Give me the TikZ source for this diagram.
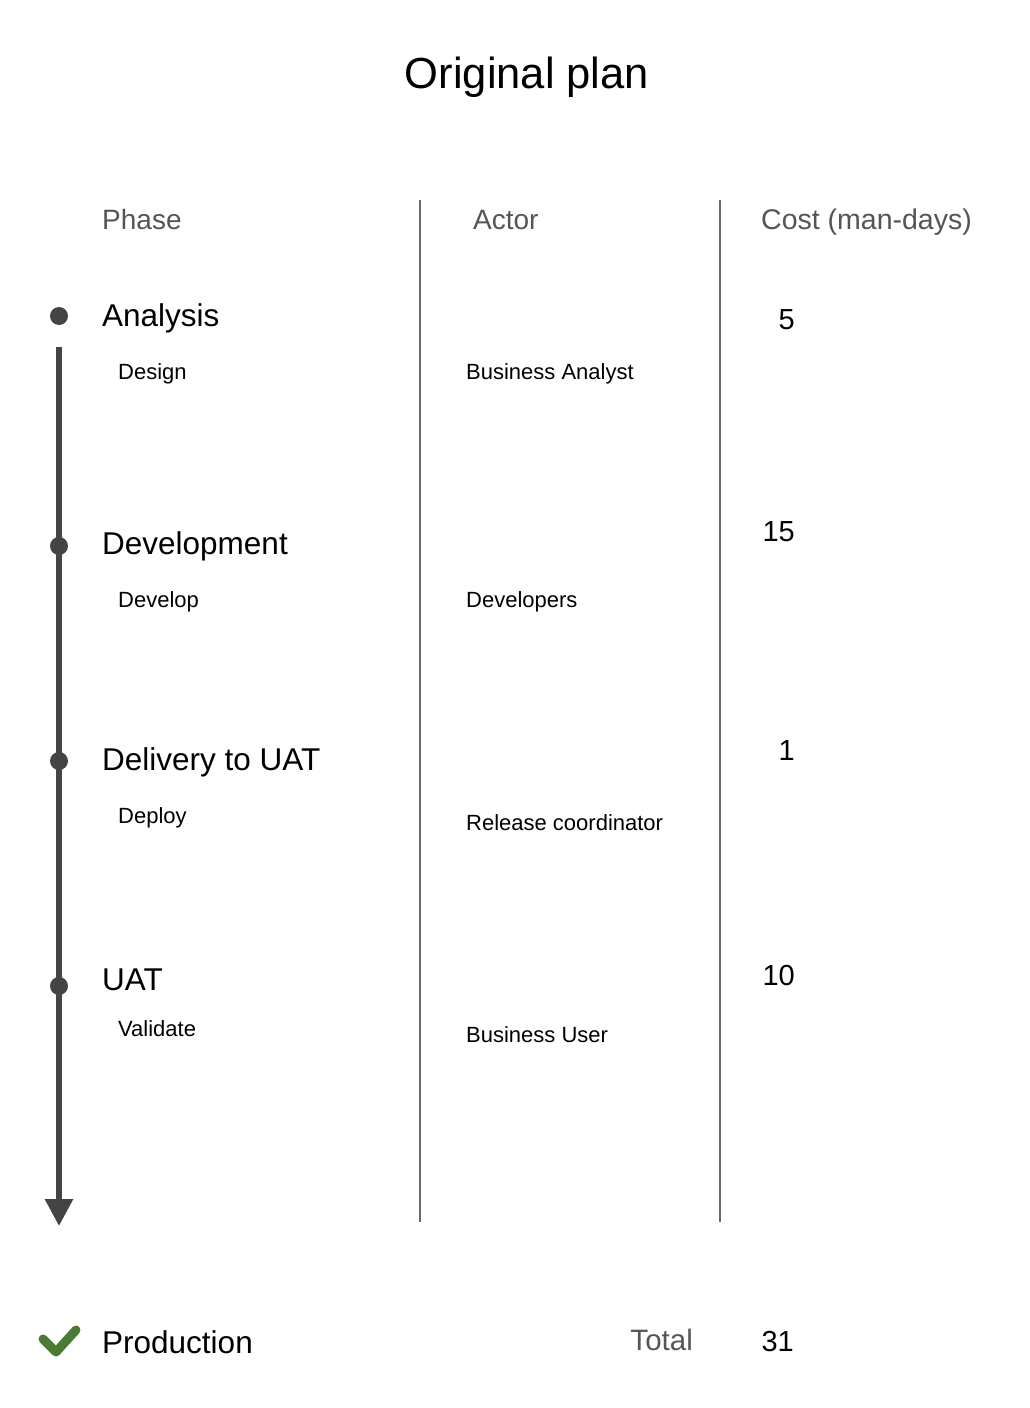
\documentclass[tikz,border=0pt]{standalone}
\usepackage{fontspec}
\setmainfont{Liberation Sans}
\usepackage{tikz}
\usetikzlibrary{arrows.meta}

\definecolor{hdrgray}{HTML}{555555}
\definecolor{linegray}{HTML}{6A6A6A}
\definecolor{axisgray}{HTML}{444444}
\definecolor{okgreen}{HTML}{4A7A34}

\begin{document}
\begin{tikzpicture}[x=1pt, y=-1pt,
        hdrtxt/.style={inner sep=0, text=hdrgray, font=\fontsize{28}{34}\selectfont},
        phasetxt/.style={inner sep=0, anchor=base west, font=\fontsize{31.5}{37}\selectfont},
        tasktxt/.style={inner sep=0, anchor=base west, font=\fontsize{22}{26}\selectfont},
        costtxt/.style={inner sep=0, anchor=base east, font=\fontsize{29}{35}\selectfont},
        milestone/.style={circle, fill=axisgray, inner sep=0, minimum size=18pt}]
        \useasboundingbox (0, 0) rectangle (1030, 1408);
        % title and headers
        \node[inner sep=0, font=\fontsize{43.5}{50}\selectfont] (title) at (527, 77) {Original plan};
        \node[hdrtxt, anchor=base west] (hphase) at (102, 229) {Phase};
        \node[hdrtxt, anchor=base west] (hactor) at (473, 229) {Actor};
        \node[hdrtxt, anchor=base west, font=\fontsize{28.5}{34}\selectfont] (hcost) at (761, 229) {Cost (man-days)};
        % column rules
        \coordinate (rA1) at (420, 200); \coordinate (rA2) at (420, 1222);
        \coordinate (rB1) at (720, 200); \coordinate (rB2) at (720, 1222);
        \draw[linegray, line width=2pt] (rA1) -- (rA2); \draw[linegray, line width=2pt] (rB1) -- (rB2);
        % timeline
        \coordinate (tstart) at (59, 347);
        \coordinate (tend) at (59, 1226);
        \draw[axisgray, line width=6pt, -{Triangle[width=27pt, length=27pt]}] (tstart) -- (tend);
        \node[milestone] (m1) at (59, 316) {};
        \node[milestone] (m2) at (59, 546) {};
        \node[milestone] (m3) at (59, 761) {};
        \node[milestone] (m4) at (59, 986) {};
        % phases
        \node[phasetxt] (analysis) at (102, 326) {Analysis};
        \node[phasetxt] (development) at (102, 554) {Development};
        \node[phasetxt] (delivery) at (102, 770) {Delivery to UAT};
        \node[phasetxt] (uat) at (102, 990) {UAT};
        \node[tasktxt] (design) at (118, 379) {Design};
        \node[tasktxt] (develop) at (118, 607) {Develop};
        \node[tasktxt] (deploy) at (118, 823) {Deploy};
        \node[tasktxt] (validate) at (118, 1036) {Validate};
        % actors
        \node[tasktxt] (ba) at (466, 379) {Business Analyst};
        \node[tasktxt] (devs) at (466, 607) {Developers};
        \node[tasktxt] (relco) at (466, 830) {Release coordinator};
        \node[tasktxt] (bu) at (466, 1042) {Business User};
        % costs
        \node[costtxt] (c1) at (795, 329) {5};
        \node[costtxt] (c2) at (795, 541) {15};
        \node[costtxt] (c3) at (795, 760) {1};
        \node[costtxt] (c4) at (795, 985) {10};
        % production and total
        \draw[okgreen, line width=9pt, line cap=round, line join=round] (43, 1339) -- (56, 1352) -- (76, 1330);
        \node[phasetxt] (production) at (102, 1353) {Production};
        \node[hdrtxt, anchor=base east, font=\fontsize{29.5}{35}\selectfont] (total) at (693, 1350) {Total};
        \node[costtxt] (sum) at (794, 1351) {31};
    \end{tikzpicture}
\end{document}
